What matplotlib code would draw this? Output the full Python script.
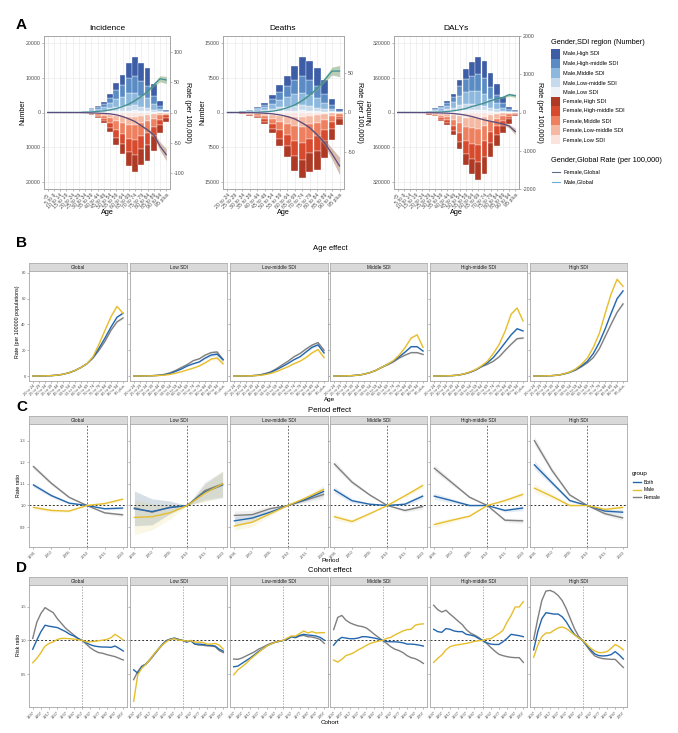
import numpy as np
import matplotlib
matplotlib.use("Agg")
import matplotlib.pyplot as plt
from matplotlib.patches import Rectangle

plt.rcParams['font.family'] = ['Liberation Sans', 'DejaVu Sans']

# -----------------------------
# Panel A data
ages20 = ["<5", "5 to 9", "10 to 14", "15 to 19", "20 to 24", "25 to 29", "30 to 34",
          "35 to 39", "40 to 44", "45 to 49", "50 to 54", "55 to 59", "60 to 64",
          "65 to 69", "70 to 74", "75 to 79", "80 to 84", "85 to 89", "90 to 94", "95 plus"]
ages16 = ages20[4:]

sdi_names = ["High SDI", "High-middle SDI", "Middle SDI", "Low-middle SDI", "Low SDI"]
male_colors = ["#3D5DA7", "#5A8BC4", "#8DB8DE", "#C7DAEC", "#EEF3F9"]
female_colors = ["#AE3A25", "#D84A2E", "#EE7F5F", "#F5B8A2", "#FBE4DD"]

# share of each SDI region in the bar of every age group (High ... Low)
male_share = [
    [0.08, 0.08, 0.08, 0.09, 0.09, 0.10, 0.11, 0.13, 0.15, 0.17, 0.20, 0.24, 0.28, 0.31, 0.34, 0.37, 0.40, 0.43, 0.46, 0.50],
    [0.18, 0.18, 0.19, 0.20, 0.21, 0.22, 0.23, 0.24, 0.25, 0.27, 0.28, 0.29, 0.30, 0.30, 0.30, 0.29, 0.28, 0.27, 0.26, 0.25],
    [0.36, 0.36, 0.36, 0.35, 0.35, 0.34, 0.34, 0.33, 0.32, 0.31, 0.30, 0.28, 0.26, 0.25, 0.23, 0.22, 0.21, 0.20, 0.19, 0.17],
    [0.24, 0.24, 0.23, 0.23, 0.22, 0.22, 0.21, 0.20, 0.19, 0.17, 0.15, 0.13, 0.11, 0.10, 0.09, 0.09, 0.08, 0.07, 0.07, 0.06],
    [0.14, 0.14, 0.14, 0.13, 0.13, 0.12, 0.11, 0.10, 0.09, 0.08, 0.07, 0.06, 0.05, 0.04, 0.04, 0.03, 0.03, 0.03, 0.02, 0.02],
]
female_share = [
    [0.07, 0.07, 0.07, 0.08, 0.08, 0.09, 0.10, 0.12, 0.14, 0.16, 0.18, 0.21, 0.24, 0.26, 0.28, 0.31, 0.34, 0.37, 0.40, 0.44],
    [0.16, 0.16, 0.17, 0.18, 0.19, 0.20, 0.21, 0.22, 0.23, 0.24, 0.25, 0.25, 0.25, 0.25, 0.25, 0.25, 0.25, 0.24, 0.24, 0.23],
    [0.34, 0.34, 0.34, 0.33, 0.33, 0.32, 0.31, 0.30, 0.29, 0.28, 0.27, 0.26, 0.26, 0.25, 0.25, 0.24, 0.23, 0.23, 0.22, 0.21],
    [0.26, 0.26, 0.25, 0.25, 0.24, 0.23, 0.23, 0.22, 0.21, 0.20, 0.19, 0.18, 0.17, 0.16, 0.15, 0.14, 0.13, 0.12, 0.11, 0.10],
    [0.17, 0.17, 0.17, 0.16, 0.16, 0.16, 0.15, 0.14, 0.13, 0.12, 0.11, 0.10, 0.08, 0.08, 0.07, 0.06, 0.05, 0.04, 0.03, 0.02],
]

inc_male = [20, 30, 40, 60, 100, 200, 500, 1400, 1900, 3000, 5300, 8400, 10800, 14300, 15800, 14300, 12700, 8200, 3300, 800]
inc_female = [20, 30, 40, 60, 80, 120, 200, 700, 1600, 3000, 5500, 9200, 11800, 15400, 16900, 15100, 14000, 10900, 5900, 2600]
inc_rate_male = [0, 0, 0, 0, 0.1, 0.2, 0.5, 1.0, 1.8, 2.8, 4.4, 6.6, 10, 14, 20, 27, 35, 46, 56, 54]
inc_rate_female = [0, 0, 0, 0, 0.1, 0.2, 0.4, 0.7, 1.0, 1.5, 2.2, 3.9, 6.6, 10.5, 15, 22, 29, 37, 56, 70]
inc_ci_male = [0, 0, 0, 0, 0, 0, 0, 0.1, 0.1, 0.2, 0.3, 0.4, 0.6, 0.8, 1.0, 1.5, 2.0, 3.0, 5.0, 6.0]
inc_ci_female = [0, 0, 0, 0, 0, 0, 0, 0.1, 0.1, 0.2, 0.3, 0.4, 0.6, 0.9, 1.2, 1.8, 2.5, 4.0, 7.0, 10.0]

death_male = [30, 100, 250, 570, 1100, 2000, 3700, 5900, 7800, 10000, 11900, 11000, 9600, 7000, 3000, 700]
death_female = [10, 50, 300, 700, 1200, 2500, 4300, 7100, 9500, 12500, 14000, 12700, 12400, 9700, 5800, 2600]
death_rate_male = [0, 0, 0.1, 0.2, 0.4, 0.9, 1.6, 3.3, 6, 9.5, 15, 22, 30, 41, 52, 52]
death_rate_female = [0, 0, 0.1, 0.2, 0.5, 0.9, 1.6, 3, 5, 8, 13, 19, 28, 38, 52, 67]
death_ci_male = [0, 0, 0, 0, 0, 0.1, 0.1, 0.2, 0.3, 0.5, 0.8, 1.2, 1.8, 3.0, 5.0, 7.0]
death_ci_female = [0, 0, 0, 0, 0, 0.1, 0.1, 0.2, 0.3, 0.5, 0.8, 1.5, 2.5, 4.0, 7.0, 11.0]

daly_male = [0, 0, 0, 500, 2000, 8000, 20000, 30000, 53000, 84000, 149000, 200000, 229000, 253000, 236000, 183000, 130000, 73000, 27000, 12000]
daly_female = [0, 0, 0, 1000, 4000, 10000, 18000, 41000, 56000, 102000, 166000, 242000, 282000, 308000, 282000, 204000, 155000, 95000, 52000, 18000]
daly_rate_male = [0, 0, 0, 1, 3, 6, 10, 15, 25, 45, 70, 105, 160, 200, 250, 310, 360, 400, 470, 440]
daly_rate_female = [0, 0, 0, 1, 3, 5, 8, 12, 18, 27, 45, 70, 105, 150, 195, 230, 265, 300, 355, 500]
daly_ci_male = [0, 0, 0, 0, 0, 1, 1, 2, 2, 3, 4, 5, 7, 9, 12, 16, 20, 28, 40, 45]
daly_ci_female = [0, 0, 0, 0, 0, 1, 1, 2, 2, 3, 4, 5, 7, 9, 12, 16, 22, 32, 50, 80]

# -----------------------------
# Panels B-D data
regions = ["Global", "Low SDI", "Low-middle SDI", "Middle SDI", "High-middle SDI", "High SDI"]

age_both = {
    "Global": [0.05, 0.1, 0.2, 0.35, 0.7, 1.4, 2.6, 4.3, 6.7, 9.6, 14.4, 21.6, 29.5, 38, 45.6, 48.7],
    "Low SDI": [0.05, 0.1, 0.2, 0.3, 0.5, 1.0, 1.9, 3.6, 5.5, 7.9, 9.6, 11, 14, 16.3, 17, 12.7],
    "Low-middle SDI": [0.05, 0.1, 0.2, 0.3, 0.6, 1.4, 2.6, 4.8, 7.2, 9.8, 12.7, 15, 18.7, 22.3, 24.2, 18],
    "Middle SDI": [0.05, 0.1, 0.2, 0.35, 0.7, 1.4, 2.6, 4.3, 6.7, 9.1, 11.5, 15, 18.7, 22.8, 22.8, 19.4],
    "High-middle SDI": [0.05, 0.1, 0.2, 0.35, 0.7, 1.6, 2.9, 4.8, 7.5, 10.3, 14.4, 20, 26, 32, 36.7, 35],
    "High SDI": [0.05, 0.1, 0.2, 0.35, 0.7, 1.6, 3.0, 5, 7.9, 11.5, 17.5, 26, 36.7, 48.7, 60, 66],
}
age_male = {
    "Global": [0.05, 0.1, 0.2, 0.35, 0.7, 1.4, 2.6, 4.3, 6.7, 9.6, 15, 24.7, 35.5, 46, 54, 48.7],
    "Low SDI": [0.05, 0.1, 0.15, 0.25, 0.4, 0.7, 1.2, 2.2, 3.4, 4.8, 6.2, 7.9, 10.3, 13.2, 14, 9.6],
    "Low-middle SDI": [0.05, 0.1, 0.15, 0.25, 0.5, 1.0, 1.9, 3.4, 5.3, 7.2, 9.6, 11.5, 14.4, 18, 20.6, 14.4],
    "Middle SDI": [0.05, 0.1, 0.2, 0.35, 0.7, 1.4, 2.6, 4.3, 6.7, 9.1, 12, 16.3, 22.3, 29.5, 32, 22.3],
    "High-middle SDI": [0.05, 0.1, 0.2, 0.35, 0.7, 1.7, 3.1, 5, 7.9, 11.5, 17.5, 24.7, 35, 48, 52.8, 42.7],
    "High SDI": [0.05, 0.1, 0.2, 0.35, 0.7, 1.7, 3.1, 5.5, 9.1, 14, 22.3, 33, 48.7, 63.8, 75, 69.5],
}
age_female = {
    "Global": [0.05, 0.1, 0.2, 0.35, 0.7, 1.4, 2.6, 4.3, 6.7, 9.6, 14, 20, 27, 35.5, 42, 45],
    "Low SDI": [0.05, 0.1, 0.2, 0.35, 0.6, 1.2, 2.4, 4.3, 6.7, 9, 12, 13.4, 16.3, 18.2, 18.7, 12.7],
    "Low-middle SDI": [0.05, 0.1, 0.2, 0.35, 0.7, 1.7, 3.1, 5.5, 8.6, 11.5, 15, 17.5, 21, 24, 26, 20],
    "Middle SDI": [0.05, 0.1, 0.2, 0.35, 0.7, 1.4, 2.6, 4.3, 6.7, 8.6, 11, 14, 16.3, 18.2, 18.2, 16.8],
    "High-middle SDI": [0.05, 0.1, 0.2, 0.35, 0.7, 1.5, 2.8, 4.6, 7.2, 9.1, 11.5, 15, 20, 24.7, 29, 29.5],
    "High SDI": [0.05, 0.1, 0.2, 0.35, 0.7, 1.5, 2.8, 4.6, 7.2, 10.3, 14.4, 21.1, 30.7, 40.3, 49.4, 55.9],
}
age_ci = {
    "Global": [0] * 10 + [0.2, 0.3, 0.4, 0.5, 0.6, 0.7],
    "Low SDI": [0] * 10 + [0.4, 0.6, 0.8, 1.0, 1.4, 1.6],
    "Low-middle SDI": [0] * 10 + [0.3, 0.4, 0.6, 0.8, 1.0, 1.2],
    "Middle SDI": [0] * 10 + [0.2, 0.3, 0.4, 0.5, 0.6, 0.7],
    "High-middle SDI": [0] * 10 + [0.2, 0.3, 0.4, 0.5, 0.6, 0.7],
    "High SDI": [0] * 10 + [0.2, 0.3, 0.4, 0.5, 0.6, 0.7],
}

periods = ["1995", "2000", "2005", "2010", "2015", "2020"]
period_both = {
    "Global": [1.095, 1.046, 1.011, 1.0, 0.985, 0.988],
    "Low SDI": [0.985, 0.972, 0.99, 1.0, 1.062, 1.095],
    "Low-middle SDI": [0.929, 0.942, 0.969, 1.0, 1.029, 1.065],
    "Middle SDI": [1.072, 1.022, 1.006, 1.0, 1.006, 1.043],
    "High-middle SDI": [1.043, 1.022, 1.0, 1.0, 0.977, 0.988],
    "High SDI": [1.188, 1.105, 1.023, 1.0, 0.974, 0.969],
}
period_male = {
    "Global": [0.991, 0.977, 0.974, 1.0, 1.009, 1.029],
    "Low SDI": [0.945, 0.948, 0.966, 1.0, 1.057, 1.10],
    "Low-middle SDI": [0.905, 0.923, 0.962, 1.0, 1.035, 1.074],
    "Middle SDI": [0.948, 0.926, 0.962, 1.0, 1.045, 1.092],
    "High-middle SDI": [0.912, 0.932, 0.951, 1.0, 1.023, 1.051],
    "High SDI": [1.08, 1.042, 1.0, 1.0, 0.982, 0.991],
}
period_female = {
    "Global": [1.18, 1.103, 1.038, 1.0, 0.966, 0.957],
    "Low SDI": [0.989, 0.969, 0.992, 1.0, 1.069, 1.10],
    "Low-middle SDI": [0.954, 0.958, 0.985, 1.0, 1.025, 1.051],
    "Middle SDI": [1.192, 1.108, 1.049, 1.0, 0.977, 0.995],
    "High-middle SDI": [1.172, 1.105, 1.038, 1.0, 0.932, 0.929],
    "High SDI": [1.30, 1.162, 1.049, 1.0, 0.962, 0.943],
}
period_ci = {
    "Global": [0.01, 0.008, 0.005, 0, 0.005, 0.008],
    "Low SDI": [0.08, 0.06, 0.03, 0, 0.04, 0.06],
    "Low-middle SDI": [0.02, 0.02, 0.01, 0, 0.01, 0.02],
    "Middle SDI": [0.015, 0.01, 0.005, 0, 0.008, 0.012],
    "High-middle SDI": [0.015, 0.01, 0.005, 0, 0.008, 0.012],
    "High SDI": [0.02, 0.012, 0.006, 0, 0.008, 0.012],
}

cohorts = ["1897", "1902", "1907", "1912", "1917", "1922", "1927", "1932", "1937", "1942", "1947", "1952",
           "1957", "1962", "1967", "1972", "1977", "1982", "1987", "1992", "1997", "2002", "2007"]
cohort_both = {
    "Global": [0.87, 1.005, 1.13, 1.225, 1.21, 1.20, 1.19, 1.16, 1.13, 1.09, 1.065, 1.03, 1.0, 0.965, 0.936, 0.917, 0.907, 0.902, 0.902, 0.897, 0.917, 0.882, 0.843],
    "Low SDI": [0.565, 0.515, 0.61, 0.65, 0.72, 0.795, 0.87, 0.94, 0.995, 1.02, 1.035, 1.015, 1.0, 0.975, 0.995, 0.946, 0.946, 0.94, 0.93, 0.926, 0.917, 0.87, 0.84],
    "Low-middle SDI": [0.61, 0.62, 0.66, 0.70, 0.74, 0.785, 0.835, 0.873, 0.917, 0.946, 0.97, 0.985, 1.0, 1.02, 1.055, 1.045, 1.075, 1.09, 1.08, 1.075, 1.065, 1.045, 1.005],
    "Middle SDI": [0.93, 1.005, 1.045, 1.035, 1.025, 1.025, 1.035, 1.055, 1.055, 1.045, 1.035, 1.02, 1.0, 0.985, 0.98, 0.98, 0.975, 0.965, 0.946, 0.946, 0.94, 0.93, 0.917],
    "High-middle SDI": [1.165, 1.13, 1.12, 1.175, 1.165, 1.14, 1.13, 1.13, 1.09, 1.08, 1.065, 1.03, 1.0, 0.965, 0.946, 0.94, 0.94, 0.98, 1.03, 1.09, 1.08, 1.07, 1.055],
    "High SDI": [0.86, 1.13, 1.32, 1.41, 1.40, 1.39, 1.39, 1.35, 1.275, 1.175, 1.09, 1.04, 1.0, 0.93, 0.86, 0.80, 0.775, 0.77, 0.775, 0.79, 0.835, 0.785, 0.725],
}
cohort_male = {
    "Global": [0.67, 0.735, 0.82, 0.917, 0.956, 0.98, 1.015, 1.03, 1.03, 1.025, 1.02, 1.01, 1.0, 0.98, 0.98, 0.985, 0.995, 1.005, 1.015, 1.04, 1.09, 1.05, 1.005],
    "Low SDI": [0.10, 0.49, 0.59, 0.647, 0.72, 0.80, 0.87, 0.93, 0.98, 1.015, 1.025, 1.005, 1.0, 0.99, 0.995, 0.975, 0.975, 0.97, 0.946, 0.946, 0.956, 0.93, 0.87],
    "Low-middle SDI": [0.49, 0.565, 0.61, 0.66, 0.72, 0.77, 0.82, 0.87, 0.917, 0.946, 0.97, 0.99, 1.0, 1.035, 1.065, 1.065, 1.10, 1.14, 1.11, 1.13, 1.11, 1.115, 1.115],
    "Middle SDI": [0.71, 0.68, 0.72, 0.775, 0.795, 0.82, 0.86, 0.89, 0.926, 0.956, 0.975, 0.99, 1.0, 1.03, 1.045, 1.08, 1.11, 1.14, 1.16, 1.165, 1.225, 1.24, 1.245],
    "High-middle SDI": [0.675, 0.735, 0.785, 0.86, 0.907, 0.926, 0.936, 0.946, 0.956, 0.97, 0.985, 0.995, 1.0, 1.02, 1.025, 1.065, 1.10, 1.15, 1.27, 1.37, 1.495, 1.495, 1.575],
    "High SDI": [0.75, 0.93, 1.055, 1.11, 1.11, 1.15, 1.185, 1.20, 1.175, 1.13, 1.08, 1.04, 1.0, 0.946, 0.883, 0.843, 0.82, 0.82, 0.835, 0.883, 0.94, 0.907, 0.86],
}
cohort_female = {
    "Global": [1.03, 1.27, 1.40, 1.485, 1.446, 1.41, 1.32, 1.25, 1.18, 1.13, 1.08, 1.03, 1.0, 0.946, 0.89, 0.85, 0.82, 0.81, 0.79, 0.775, 0.76, 0.735, 0.71],
    "Low SDI": [0.42, 0.54, 0.62, 0.65, 0.71, 0.785, 0.86, 0.93, 0.995, 1.02, 1.03, 1.015, 1.0, 0.98, 1.0, 0.946, 0.93, 0.93, 0.92, 0.917, 0.907, 0.85, 0.82],
    "Low-middle SDI": [0.725, 0.72, 0.74, 0.77, 0.80, 0.83, 0.87, 0.897, 0.93, 0.956, 0.975, 0.99, 1.0, 1.015, 1.055, 1.04, 1.065, 1.075, 1.055, 1.05, 1.035, 1.015, 0.956],
    "Middle SDI": [1.16, 1.34, 1.37, 1.30, 1.26, 1.235, 1.215, 1.205, 1.185, 1.14, 1.09, 1.045, 1.0, 0.956, 0.907, 0.87, 0.85, 0.82, 0.775, 0.745, 0.73, 0.70, 0.66],
    "High-middle SDI": [1.52, 1.455, 1.42, 1.446, 1.39, 1.34, 1.285, 1.235, 1.16, 1.11, 1.08, 1.045, 1.0, 0.956, 0.897, 0.843, 0.795, 0.775, 0.76, 0.75, 0.745, 0.745, 0.675],
    "High SDI": [1.015, 1.32, 1.59, 1.73, 1.74, 1.715, 1.665, 1.59, 1.47, 1.32, 1.175, 1.065, 1.0, 0.917, 0.835, 0.77, 0.745, 0.73, 0.725, 0.72, 0.72, 0.66, 0.60],
}

group_names = ["Both", "Male", "Female"]
group_colors = {"Both": "#2466AC", "Male": "#E6BE2C", "Female": "#7F7F7F"}

# -----------------------------
W, H = 678, 733
fig = plt.figure(figsize=(W / 100, H / 100), dpi=100)


def box(x0, y0, x1, y1):
    return fig.add_axes([x0 / W, 1 - y1 / H, (x1 - x0) / W, (y1 - y0) / H])


def frame(ax, color="#A6A6A6", lw=0.6):
    for s in ax.spines.values():
        s.set_color(color)
        s.set_linewidth(lw)


# -----------------------------
# Panel A
def panel_a(x0, x1, labels, first, m_tot, f_tot, lim, ticks, r_m, r_f, ci_m, ci_f, rlim, rticks):
    ax = box(x0, 36, x1, 189)
    n = len(labels)
    x = np.arange(n)
    base = np.zeros(n)
    for k in range(4, -1, -1):
        h = np.array(m_tot) * np.array(male_share[k][first:])
        ax.bar(x, h, 0.92, bottom=base, color=male_colors[k], edgecolor="white", linewidth=0.25, zorder=2)
        base += h
    base = np.zeros(n)
    for k in range(4, -1, -1):
        h = -np.array(f_tot) * np.array(female_share[k][first:])
        ax.bar(x, h, 0.92, bottom=base, color=female_colors[k], edgecolor="white", linewidth=0.25, zorder=2)
        base += h
    ax.set_xlim(-0.6, n - 0.4)
    ax.set_ylim(-lim, lim)
    ax.set_yticks(ticks)
    ax.set_yticklabels([str(abs(t)) for t in ticks])
    ax.set_xticks(x)
    ax.set_xticklabels(labels, rotation=45, ha="right", rotation_mode="anchor")
    ax.grid(True, color="#EBEBEB", linewidth=0.5)
    ax.set_axisbelow(True)
    ax.tick_params(labelsize=3.8, length=1.5, width=0.4, color="#808080", labelcolor="#4D4D4D", pad=1)
    frame(ax)

    ax2 = ax.twinx()
    rm, rf = np.array(r_m), np.array(r_f)
    cm, cf = np.array(ci_m), np.array(ci_f)
    ax2.fill_between(x, rm - cm, rm + cm, color="#7FA878", alpha=0.55, linewidth=0)
    ax2.plot(x, rm, color="#3F8F96", lw=0.9)
    ax2.fill_between(x, -(rf + cf), -(rf - cf), color="#B88A72", alpha=0.55, linewidth=0)
    ax2.plot(x, -rf, color="#5B4B7C", lw=0.9)
    ax2.set_ylim(-rlim, rlim)
    ax2.set_yticks(rticks)
    ax2.set_yticklabels([str(t) for t in rticks])
    ax2.tick_params(labelsize=3.8, length=1.5, width=0.4, color="#808080", labelcolor="#4D4D4D", pad=1)
    frame(ax2)
    return ax


panel_a(44, 170, ages20, 0, inc_male, inc_female, 21900, [-20000, -10000, 0, 10000, 20000],
        inc_rate_male, inc_rate_female, inc_ci_male, inc_ci_female, 127, [-100, -50, 0, 50, 100])
panel_a(223, 344, ages16, 4, death_male, death_female, 16400, [-15000, -7500, 0, 7500, 15000],
        death_rate_male, death_rate_female, death_ci_male, death_ci_female, 96, [-50, 0, 50])
panel_a(394, 519, ages20, 0, daly_male, daly_female, 350000, [-320000, -160000, 0, 160000, 320000],
        daly_rate_male, daly_rate_female, daly_ci_male, daly_ci_female, 2013, [-2000, -1000, 0, 1000, 2000])

# -----------------------------
# Panels B, C, D
cols = [(29, 127), (130, 227), (230, 328), (330, 427), (430, 527), (530, 627)]


def facet_row(top, bottom, ylim, yticks, ytick_labels, xlim, xticks, xtick_labels):
    axes = []
    for j, reg in enumerate(regions):
        x0, x1 = cols[j]
        st = box(x0, top, x1, top + 8)
        st.set_facecolor("#D9D9D9")
        st.set_xticks([])
        st.set_yticks([])
        frame(st, "#A6A6A6", 0.5)
        st.text(0.5, 0.45, reg, ha="center", va="center", fontsize=3.4, color="#1A1A1A", transform=st.transAxes)
        ax = box(x0, top + 8, x1, bottom)
        ax.set_xlim(*xlim)
        ax.set_ylim(*ylim)
        ax.set_xticks(xticks)
        ax.set_xticklabels(xtick_labels, rotation=45, ha="right", rotation_mode="anchor")
        ax.set_yticks(yticks)
        if j == 0:
            ax.set_yticklabels(ytick_labels)
        else:
            ax.tick_params(axis="y", length=0)
            ax.set_yticklabels([])
        ax.tick_params(labelsize=2.9, length=1.3, width=0.4, color="#808080", labelcolor="#4D4D4D", pad=1)
        frame(ax)
        axes.append(ax)
    return axes


# B: age effect
axes_b = facet_row(263, 381, (-3.8, 81.4), [0, 20, 40, 60, 80], ["0", "20", "40", "60", "80"],
                   (-0.67, 15.67), np.arange(16), ages16)
for ax, reg in zip(axes_b, regions):
    xb = np.arange(16)
    ci = np.array(age_ci[reg])
    for g, d in (("Female", age_female), ("Both", age_both), ("Male", age_male)):
        v = np.array(d[reg])
        ax.fill_between(xb, v - ci, v + ci, color=group_colors[g], alpha=0.15, linewidth=0)
    ax.plot(xb, age_female[reg], color=group_colors["Female"], lw=1.0)
    ax.plot(xb, age_both[reg], color=group_colors["Both"], lw=1.0)
    ax.plot(xb, age_male[reg], color=group_colors["Male"], lw=1.0)

# C: period effect
axes_c = facet_row(416, 547, (0.808, 1.377), [0.9, 1.0, 1.1, 1.2, 1.3], ["0.9", "1.0", "1.1", "1.2", "1.3"],
                   (-0.25, 5.25), np.arange(6), periods)
for ax, reg in zip(axes_c, regions):
    xc = np.arange(6)
    ci = np.array(period_ci[reg])
    for g, d in (("Female", period_female), ("Both", period_both), ("Male", period_male)):
        v = np.array(d[reg])
        ax.fill_between(xc, v - ci, v + ci, color=group_colors[g], alpha=0.12, linewidth=0)
    ax.axvline(3, color="#4D4D4D", lw=0.6, ls=(0, (2, 2)))
    ax.axhline(1.0, color="#333333", lw=0.7, ls=(0, (2, 2)))
    for g, d in (("Female", period_female), ("Both", period_both), ("Male", period_male)):
        ax.plot(xc, d[reg], color=group_colors[g], lw=1.0)

# D: cohort effect
axes_d = facet_row(577, 707, (0.015, 1.82), [0.5, 1.0, 1.5], ["0.5", "1.0", "1.5"],
                   (-0.9, 22.9), np.arange(0, 23, 2), cohorts[::2])
for ax, reg in zip(axes_d, regions):
    xd = np.arange(23)
    ax.axvline(12, color="#8C8C8C", lw=0.5, ls=(0, (2, 2)))
    ax.axhline(1.0, color="#333333", lw=0.7, ls=(0, (2, 2)))
    for g, d in (("Female", cohort_female), ("Both", cohort_both), ("Male", cohort_male)):
        ax.plot(xd, d[reg], color=group_colors[g], lw=1.0)

# -----------------------------
# Texts and legends in pixel coordinates
ov = fig.add_axes([0, 0, 1, 1])
ov.set_xlim(0, W)
ov.set_ylim(H, 0)
ov.axis("off")

for letter, y in (("A", 25), ("B", 243), ("C", 407), ("D", 568)):
    ov.text(16, y, letter, fontsize=11, fontweight="bold", ha="left", va="center")

for name, xc in (("Incidence", 107), ("Deaths", 283), ("DALYs", 456)):
    ov.text(xc, 28, name, fontsize=6, ha="center", va="center")
    ov.text(xc, 213, "Age", fontsize=5.2, ha="center", va="center")
for xc in (23, 203, 370):
    ov.text(xc, 112, "Number", fontsize=5.2, rotation=90, ha="center", va="center")
for xc in (188, 359, 539):
    ov.text(xc, 112, "Rate (per 100,000)", fontsize=5.2, rotation=270, ha="center", va="center")

# legend of panel A
ov.text(551, 43, "Gender,SDI region (Number)", fontsize=5.3, ha="left", va="center")
leg_colors = male_colors + female_colors
leg_labels = ["Male," + s for s in sdi_names] + ["Female," + s for s in sdi_names]
for i, (c, lab) in enumerate(zip(leg_colors, leg_labels)):
    y0 = 49 + 9.5 * i
    ov.add_patch(Rectangle((551, y0), 9, 9.5, facecolor=c, edgecolor="none"))
    ov.text(563, y0 + 4.8, lab, fontsize=4.1, ha="left", va="center")
ov.text(551, 161, "Gender,Global Rate (per 100,000)", fontsize=5.3, ha="left", va="center")
for y, c, lab in ((172, "#5B6E8C", "Female,Global"), (182, "#6AAED6", "Male,Global")):
    ov.plot([552, 560], [y, y], color=c, lw=0.8)
    ov.text(563, y, lab, fontsize=4.1, ha="left", va="center")

# row titles and axis titles of B-D
for txt, y in (("Age effect", 249), ("Period effect", 410), ("Cohort effect", 571)):
    ov.text(330, y, txt, fontsize=5.5, ha="center", va="center")
for txt, y in (("Age", 399), ("Period", 561), ("Cohort", 722)):
    ov.text(330, y, txt, fontsize=4.5, ha="center", va="center")
ov.text(18, 322, "Rate (per 100000 populations)", fontsize=3.8, rotation=90, ha="center", va="center")
ov.text(18, 485, "Rate ratio", fontsize=3.8, rotation=90, ha="center", va="center")
ov.text(18, 645, "Risk ratio", fontsize=3.8, rotation=90, ha="center", va="center")

# legend of panel C
ov.text(632, 473, "group", fontsize=4.5, ha="left", va="center")
for i, g in enumerate(group_names):
    y = 482 + 7.7 * i
    ov.plot([633, 641], [y, y], color=group_colors[g], lw=1.0)
    ov.text(644, y, g, fontsize=3.6, ha="left", va="center")

fig.savefig("out.png", dpi=100)
